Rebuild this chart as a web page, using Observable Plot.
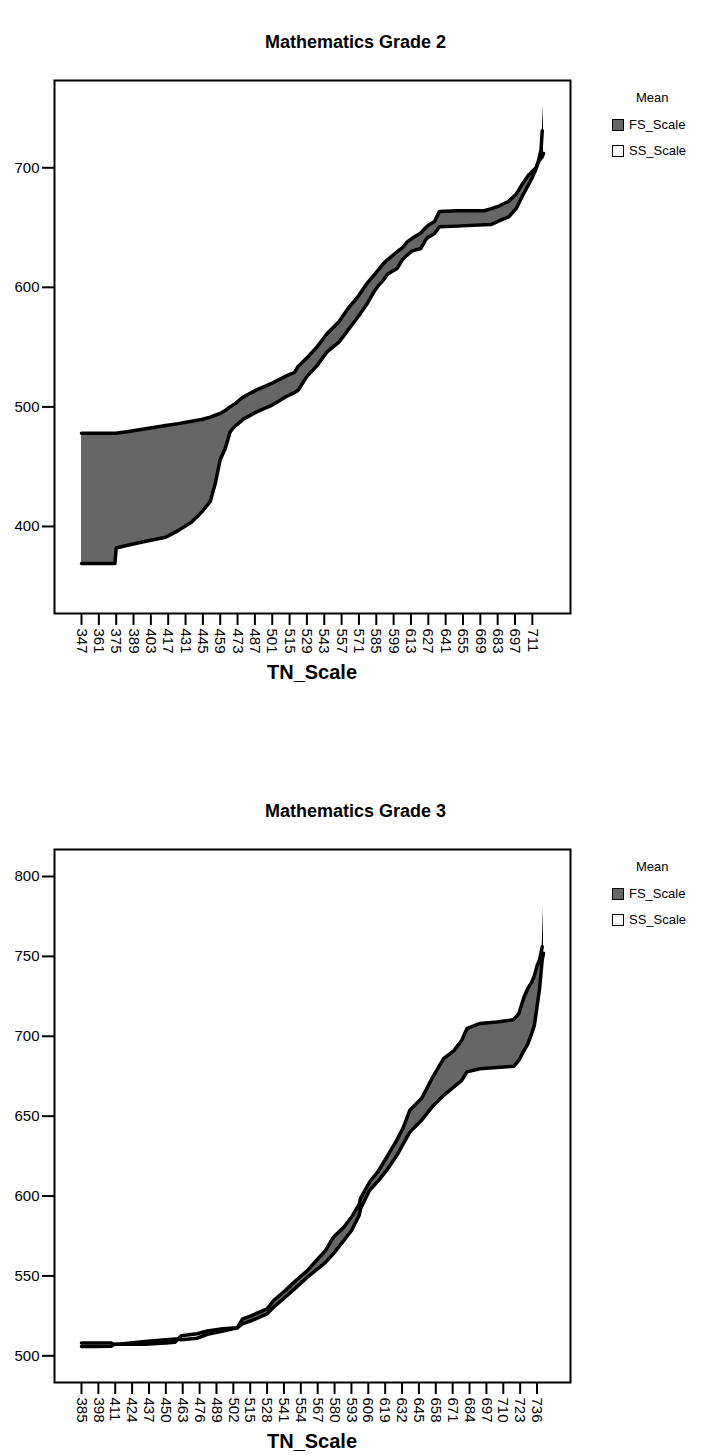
<!DOCTYPE html>
<html><head><meta charset="utf-8">
<script src="https://cdn.jsdelivr.net/npm/d3@7"></script>
<script src="https://cdn.jsdelivr.net/npm/@observablehq/plot@0.6"></script>
<style>
body{margin:0;background:#fff;font-family:"Liberation Sans",Arial,sans-serif;color:#000;}
#wrap{position:relative;width:711px;height:1455px;overflow:hidden;}
.abs{position:absolute;white-space:nowrap;}
.title{left:0;width:711px;text-align:center;font-weight:bold;font-size:18px;line-height:20px;}
.xlab{left:54px;width:516px;text-align:center;font-weight:bold;font-size:20px;line-height:22px;}
.leg{font-size:13px;line-height:14px;}
.sw{width:10px;height:10px;border:1.5px solid #000;}
</style></head><body><div id="wrap"></div>
<script>
// ---- Mathematics Grade 2 ----
const g2X  = [347,374,375,385,400,415,425,436,444,451,455,459,463,467,470,478,488,500,512,519,522,529,537,545,555,562,570,578,583,587,590,594,602,606,610,614,621,625,627,632,636,650,672,678,684,692,698,703,708,711,714,716,718,719,720];
const g2FS = [478,478,478,479.5,482,484.5,486,488,489.5,491.5,493,494.5,497,500,502,508.5,514,519.4,525.7,529,534,541,550,561,571.5,582,592,604,610,615,619,623,630,633,638,641,645.5,650,652,655,663.5,664,664.1,665.8,668,672,678,686.5,694,697,700,706,715,731,752];
const g2SS = [369,369,382,384.5,387.8,391,396.5,403.7,412,421,436,456,465,479,483,490,495.6,501,508.5,512,514,525.5,534.3,545.8,554.4,564,575,587,596,602,605,611,616,623,627,630.5,632.5,640,642,645,650.6,651.2,652.3,652.6,655.5,659,666,676.5,686,692,699,705,708,709,712];
const g2YTicks = [400,500,600,700];
const g2XTicks = [347,361,375,389,403,417,431,445,459,473,487,501,515,529,543,557,571,585,599,613,627,641,655,669,683,697,711];

// ---- Mathematics Grade 3 ----
const g3X  = [385,395,408,410,434,450,457,462,474,482,494,505,509,516,528,533,542,550,559,567,573,579,587,593,599,600,607,614,621,628,633,638,647,655,664,672,678,682,692,705,718,722,726,729,732,734,736,738,740,741];
const g3FS = [505.8,505.8,506,507,509,510,510.5,510,511,513.5,515.5,517.5,523,525.2,529.4,534.6,540.8,547,553.3,560.6,565.8,574.2,580.4,586.7,595,598.5,608.8,616,625.5,635,643,653.7,661,673.5,686,691,697.5,704.8,708,709,710.4,714.2,724.6,730,734,738,744,748,756,781];
const g3SS = [508,508,508,507.2,507.3,508,508.5,512.5,513.8,515.5,516.9,517.5,520,522,526.3,530.4,536.7,542.5,549.2,554.4,558.5,563.8,572,578.3,588,592,603.6,609.8,617,625.5,632.8,640,647.4,655.7,663,668.3,672.4,677.7,679.7,680.5,681.2,685,691,695.4,702,707,718.4,730,748,752];
const g3YTicks = [500,550,600,650,700,750,800];
const g3XTicks = [385,398,411,424,437,450,463,476,489,502,515,528,541,554,567,580,593,606,619,632,645,658,671,684,697,710,723,736];

const seriesNames = ["FS_Scale","SS_Scale"];
const legendTitle = "Mean";
const xTitle = "TN_Scale";

function panel(xs, fs, ss, xdom, ydom, yticks, xticks) {
  const data = xs.map((x, i) => ({x, fs: fs[i], ss: ss[i]}));
  const body = data.slice(0, -1);   // all but the final spike point
  const tip = data.slice(-2);       // last segment: thin black spike
  return Plot.plot({
    width: 711, height: 700,
    marginLeft: 54, marginRight: 141, marginTop: 80, marginBottom: 87,
    x: {type: "linear", domain: xdom},
    y: {type: "linear", domain: ydom},
    style: {fontFamily: "'Liberation Sans', Arial, sans-serif", fontSize: "15px", color: "black", background: "transparent"},
    marks: [
      Plot.areaY(body, {x: "x", y1: "ss", y2: d => Math.max(d.fs, d.ss), fill: "#666666"}),
      Plot.areaY(tip, {x: "x", y1: "ss", y2: "fs", fill: "black"}),
      Plot.line(body, {x: "x", y: "fs", stroke: "black", strokeWidth: 3.5}),
      Plot.line(data, {x: "x", y: "ss", stroke: "black", strokeWidth: 3.5}),
      Plot.frame({stroke: "black", strokeWidth: 2}),
      Plot.axisY({ticks: yticks, tickSize: 12, tickPadding: 3, strokeWidth: 2, label: null, fontSize: 15, tickFormat: d => String(d)}),
      Plot.axisX({ticks: xticks, tickSize: 12, tickPadding: 3, tickRotate: 90, strokeWidth: 2, label: null, fontSize: 15, tickFormat: d => String(d)})
    ]
  });
}

const wrap = document.getElementById("wrap");
function addDiv(cls, top, left, html, extra) {
  const d = document.createElement("div");
  d.className = "abs " + cls;
  d.style.top = top + "px";
  if (left !== null) d.style.left = left + "px";
  d.innerHTML = html;
  if (extra) Object.assign(d.style, extra);
  wrap.appendChild(d);
  return d;
}

const panels = [
  {top: 0, title: "Mathematics Grade 2", xs: g2X, fs: g2FS, ss: g2SS, xdom: [325.2, 741.8], ydom: [327.2, 773], yt: g2YTicks, xt: g2XTicks},
  {top: 769, title: "Mathematics Grade 3", xs: g3X, fs: g3FS, ss: g3SS, xdom: [364.2, 761.8], ydom: [483.3, 816.9], yt: g3YTicks, xt: g3XTicks}
];

for (const p of panels) {
  const svg = panel(p.xs, p.fs, p.ss, p.xdom, p.ydom, p.yt, p.xt);
  svg.style.position = "absolute";
  svg.style.left = "0px";
  svg.style.top = p.top + "px";
  wrap.appendChild(svg);
  addDiv("title", p.top + 32, 0, p.title);
  addDiv("xlab", p.top + 661, 54, xTitle);
  addDiv("leg", p.top + 91, 636, legendTitle);
  addDiv("sw", p.top + 119, 612, "", {background: "#666666"});
  addDiv("leg", p.top + 118, 629, seriesNames[0]);
  addDiv("sw", p.top + 145, 612, "", {background: "#ffffff"});
  addDiv("leg", p.top + 144, 629, seriesNames[1]);
}
</script>
</body></html>
